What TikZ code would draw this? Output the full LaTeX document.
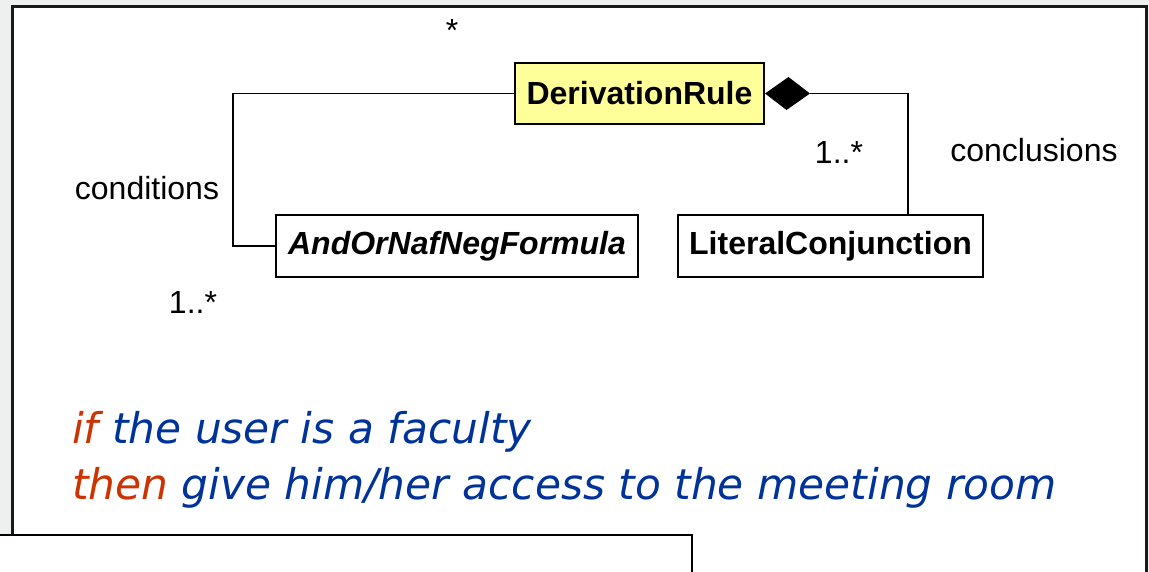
\documentclass[tikz,border=0pt]{standalone}
\usepackage{fontspec}
\setmainfont{Liberation Sans}
\newfontfamily\vfont{DejaVu Sans}
\usetikzlibrary{calc}
\definecolor{bggray}{HTML}{EEF0F0}
\definecolor{clsyellow}{HTML}{FFFF99}
\definecolor{kwred}{HTML}{CC3300}
\definecolor{txtblue}{HTML}{003399}
\definecolor{framegray}{HTML}{1A1A1A}
\tikzset{
  cls/.style={draw=black, line width=2pt, inner sep=0pt, font=\fontsize{32}{36}\selectfont\bfseries},
  conn/.style={draw=black, line width=1.5pt},
  lbl/.style={font=\fontsize{32}{36}\selectfont, inner sep=0pt},
  rule/.style={font=\vfont\itshape\fontsize{42.3}{50}\selectfont, inner sep=0pt, anchor=base west}
}
\begin{document}
\begin{tikzpicture}[x=1pt,y=-1pt]
\useasboundingbox (0,0) rectangle (1149,571);
\begin{scope}
\clip (0,0) rectangle (1149,571);
\fill[bggray] (0,0) rectangle (1149,571);
\draw[framegray, line width=3pt, fill=white] (12,6) rectangle (1146,590);
\draw[black, line width=2pt, fill=white] (-5,535) rectangle (692,590);
\end{scope}

\node[cls, fill=clsyellow, minimum width=249pt, minimum height=61pt] (D) at (639.5,93.5) {DerivationRule};
\node[cls, fill=white, minimum width=362pt, minimum height=62pt] (A) at (457,246) {\itshape AndOrNafNegFormula};
\node[cls, fill=white, minimum width=305pt, minimum height=62pt] (L) at (830.5,246) {LiteralConjunction};

\coordinate (c1) at (233,93.5);
\draw[conn] (D.west) -- (c1) |- (A.west);

\coordinate (dtip) at (810,93.5);
\coordinate (c2) at (908,215);
\fill[black] (D.east) -- ++(23.5,-16.5) -- (dtip) -- ++(-23.5,16.5) -- cycle;
\draw[conn] (dtip) -| (c2);

\node[lbl] (star) at (452,30) {*};
\node[lbl] (condl) at (147,188) {conditions};
\node[lbl] (m1) at (193,302) {1..*};
\node[lbl] (m2) at (839,152) {1..*};
\node[lbl] (concl) at (1034,150) {conclusions};

\node[rule] (r1) at (72,443) {\textcolor{kwred}{if} \textcolor{txtblue}{the user is a faculty}};
\node[rule] (r2) at (72,499) {\textcolor{kwred}{then} \textcolor{txtblue}{give him/her access to the meeting room}};
\end{tikzpicture}
\end{document}
